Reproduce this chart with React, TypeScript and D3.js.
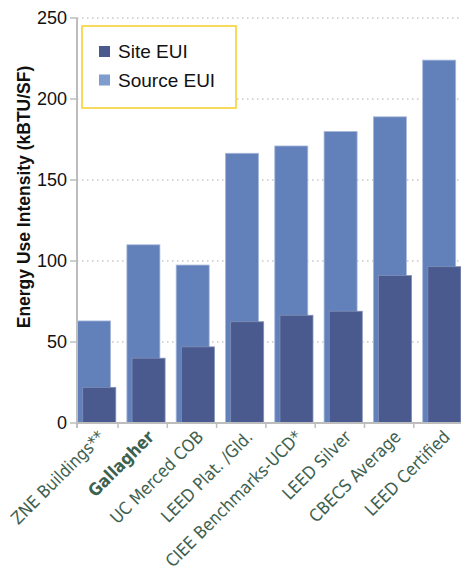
import React, { useEffect, useRef } from 'react';
import * as d3 from 'd3';

const categories = [
  'ZNE Buildings**',
  'Gallagher',
  'UC Merced COB',
  'LEED Plat. /Gld.',
  'CIEE Benchmarks-UCD*',
  'LEED Silver',
  'CBECS Average',
  'LEED Certified',
];
const sourceEUI = [63, 110, 97.5, 166.5, 171, 180, 189, 224];
const siteEUI = [22, 40, 47, 62.5, 66.5, 69, 91, 96.5];
const yTicks = [0, 50, 100, 150, 200, 250];
const legendItems = ['Site EUI', 'Source EUI'];

const W = 461;
const H = 575;

const App: React.FC = () => {
  const svgRef = useRef<SVGSVGElement>(null);

  useEffect(() => {
    if (!svgRef.current) return;
    const svg = d3.select(svgRef.current);
    svg.selectAll('*').remove();

    const axisLeftX = 77;
    const x = d3.scaleBand<string>().domain(categories).range([68.7, 463.1]);
    const y = d3.scaleLinear().domain([0, 250]).range([423, 18]);
    const bw = x.bandwidth();

    const numFont = "'Liberation Sans', Arial, sans-serif";
    const catFont = "'Liberation Sans Narrow', 'DejaVu Sans Condensed', sans-serif";

    // gridlines
    svg.append('g')
      .selectAll('line')
      .data(yTicks.filter(t => t > 0))
      .enter()
      .append('line')
      .attr('x1', axisLeftX)
      .attr('x2', W)
      .attr('y1', d => y(d))
      .attr('y2', d => y(d))
      .attr('stroke', '#c8c8c8')
      .attr('stroke-width', 1.5)
      .attr('stroke-dasharray', '1.5,3.5');

    const rows = categories.map((c, i) => ({ c, source: sourceEUI[i], site: siteEUI[i] }));

    // source bars
    svg.append('g')
      .selectAll('rect')
      .data(rows)
      .enter()
      .append('rect')
      .attr('x', d => x(d.c)! + bw * 0.18)
      .attr('y', d => y(d.source))
      .attr('width', bw * 0.67)
      .attr('height', d => y(0) - y(d.source))
      .attr('fill', '#6280b9')
      .attr('stroke', '#a9b9dc')
      .attr('stroke-width', 0.8);

    // site bars
    svg.append('g')
      .selectAll('rect')
      .data(rows)
      .enter()
      .append('rect')
      .attr('x', d => x(d.c)! + bw * 0.285)
      .attr('y', d => y(d.site))
      .attr('width', bw * 0.67)
      .attr('height', d => y(0) - y(d.site))
      .attr('fill', '#4b5a8e')
      .attr('stroke', '#8090b8')
      .attr('stroke-width', 0.8);

    // y axis
    svg.append('line')
      .attr('x1', axisLeftX).attr('x2', axisLeftX)
      .attr('y1', y(250)).attr('y2', y(0) + 5)
      .attr('stroke', '#bdbdbd').attr('stroke-width', 2);

    const yt = svg.append('g');
    yt.selectAll('line')
      .data(yTicks)
      .enter()
      .append('line')
      .attr('x1', 70).attr('x2', axisLeftX)
      .attr('y1', d => y(d)).attr('y2', d => y(d))
      .attr('stroke', '#bdbdbd').attr('stroke-width', 1.5);
    yt.selectAll('text')
      .data(yTicks)
      .enter()
      .append('text')
      .attr('x', 67)
      .attr('y', d => y(d))
      .attr('dy', '0.36em')
      .attr('text-anchor', 'end')
      .attr('font-family', numFont)
      .attr('font-size', 18)
      .attr('fill', '#111')
      .text(d => d);

    // x axis
    svg.append('line')
      .attr('x1', axisLeftX).attr('x2', W)
      .attr('y1', y(0)).attr('y2', y(0))
      .attr('stroke', '#bdbdbd').attr('stroke-width', 2);

    svg.append('g')
      .selectAll('line')
      .data(categories.slice(1))
      .enter()
      .append('line')
      .attr('x1', d => x(d)!).attr('x2', d => x(d)!)
      .attr('y1', y(0)).attr('y2', y(0) + 5)
      .attr('stroke', '#bdbdbd').attr('stroke-width', 1.5);

    svg.append('g')
      .selectAll('text')
      .data(categories)
      .enter()
      .append('text')
      .attr('transform', d => `translate(${x(d)! + bw / 2 + 12.5},${y(0) + 15}) rotate(-45)`)
      .attr('text-anchor', 'end')
      .attr('font-family', catFont)
      .attr('font-size', 17.3)
      .attr('font-weight', d => (d === 'Gallagher' ? 'bold' : 'normal'))
      .attr('fill', '#3e614f')
      .text(d => d);

    // y title
    svg.append('text')
      .attr('transform', `translate(30,197) rotate(-90)`)
      .attr('text-anchor', 'middle')
      .attr('font-family', numFont)
      .attr('font-weight', 'bold')
      .attr('font-size', 17.5)
      .attr('fill', '#111')
      .text('Energy Use Intensity (kBTU/SF)');

    // legend
    const lg = svg.append('g');
    lg.append('rect')
      .attr('x', 82).attr('y', 26)
      .attr('width', 154).attr('height', 82)
      .attr('fill', '#fff')
      .attr('stroke', '#f6cf28')
      .attr('stroke-width', 1.5);
    const swatch = d3.scaleOrdinal<string, string>().domain(legendItems).range(['#4b5a8e', '#7f9ccf']);
    const ly = d3.scalePoint<string>().domain(legendItems).range([51.5, 80]);
    lg.selectAll('rect.sw')
      .data(legendItems)
      .enter()
      .append('rect')
      .attr('class', 'sw')
      .attr('x', 99).attr('y', d => ly(d)! - 5.5)
      .attr('width', 11).attr('height', 11)
      .attr('fill', d => swatch(d));
    lg.selectAll('text')
      .data(legendItems)
      .enter()
      .append('text')
      .attr('x', 118)
      .attr('y', d => ly(d)!)
      .attr('dy', '0.36em')
      .attr('font-family', numFont)
      .attr('font-size', 19)
      .attr('fill', '#111')
      .text(d => d);
  }, []);

  return (
    <div style={{ position: 'absolute', left: 0, top: 0, width: W, height: H, background: '#fff' }}>
      <svg ref={svgRef} width={W} height={H}></svg>
    </div>
  );
};

export default App;
